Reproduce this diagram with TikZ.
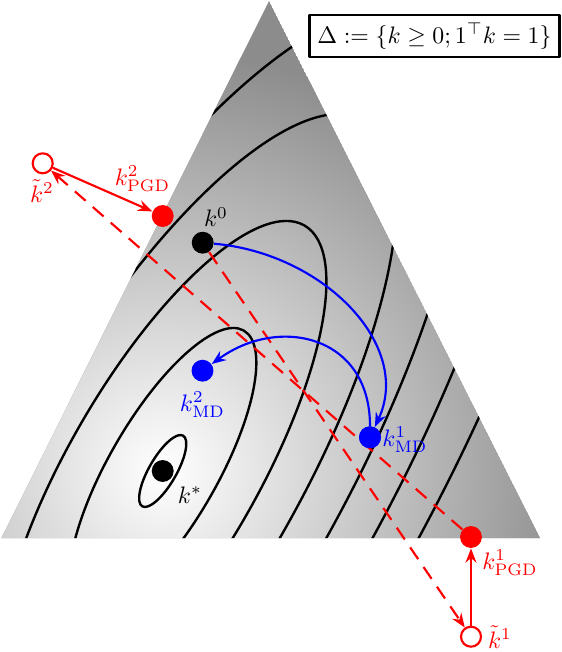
\documentclass[tikz,border=0pt]{standalone}
\usetikzlibrary{arrows.meta}
\newcommand{\Px}{0.42pt}
\newcommand{\Tilt}{60}
\newcommand{\Levels}{6}
\definecolor{pgd}{HTML}{FF0000}
\definecolor{md}{HTML}{0000FF}
\definecolor{rim}{gray}{0.55}
\tikzset{
  dot/.style={circle, fill, inner sep=0pt, minimum size=9.2pt},
  hollow/.style={circle, draw=pgd, fill=white, line width=0.9pt, inner sep=0pt, minimum size=8.4pt},
  level/.style={black, line width=1pt},
  tag/.style={inner sep=1pt},
  tip/.style={-{Stealth[length=6pt,width=4.6pt,inset=2pt]}},
  pgdline/.style={pgd, line width=0.9pt, tip},
  jump/.style={pgdline, dash pattern=on 6pt off 4pt},
  mdline/.style={md, line width=0.9pt, tip},
}
\begin{document}
\begin{tikzpicture}[x=\Px, y=\Px, line join=round]
  \useasboundingbox (0,0) rectangle (562,652);

  % ---- the simplex, shaded, with level sets --------------------------------
  \coordinate (apex) at (269,651);
  \coordinate (left) at (1.5,114);
  \coordinate (right) at (540,114);
  \coordinate (opt) at (162.7,181);
  \begin{scope}
    \clip (apex) -- (left) -- (right) -- cycle;
    \fill[rim] (apex) -- (left) -- (right) -- cycle;
    \shade[inner color=white, outer color=rim] (opt) circle (420);
    \foreach \i in {0,...,\Levels} {
      \pgfmathsetmacro\s{36+107*\i}
      \draw[level, shift={(opt)}, rotate=\Tilt] (0,0) ellipse ({1.134*\s} and {0.378*\s});
    }
  \end{scope}

  % ---- iterates -------------------------------------------------------------
  \node[dot] (k0) at (202.7,409.3) {};
  \node[dot] (kstar) at (opt) {};
  \node[dot, md] (k1MD) at (370,214.7) {};
  \node[dot, md] (k2MD) at (202.5,281.3) {};
  \node[hollow] (kt1) at (471,15.3) {};
  \node[hollow] (kt2) at (42.7,488.7) {};

  % ---- projected gradient: step out, then project back ----------------------
  \draw[jump] (k0) -- (kt1);
  \node[dot, pgd] (k1PGD) at (471,115) {};
  \draw[jump] (k1PGD) -- (kt2);
  \node[dot, pgd] (k2PGD) at (162.7,436) {};
  \draw[pgdline] (kt1) -- (k1PGD);
  \draw[pgdline] (kt2) -- (k2PGD);
  \node[dot, md] at (k1MD) {};

  % ---- mirror descent stays inside ------------------------------------------
  \draw[mdline] (k0) to[out=-5, in=65, out distance=46pt, in distance=38pt] (k1MD);
  \draw[mdline] (k1MD) to[out=90, in=36, out distance=38pt, in distance=35pt] (k2MD);

  % ---- labels ---------------------------------------------------------------
  \node[tag] (lk0) at (216,435) {$k^0$};
  \node[tag] (lkstar) at (190,157) {$k^*$};
  \node[tag, md] (lk1MD) at (405,212) {$k^1_{\mathrm{MD}}$};
  \node[tag, md] (lk2MD) at (202.5,247) {$k^2_{\mathrm{MD}}$};
  \node[tag, pgd] (lk1PGD) at (510,89) {$k^1_{\mathrm{PGD}}$};
  \node[tag, pgd] (lk2PGD) at (142.5,473) {$k^2_{\mathrm{PGD}}$};
  \node[tag, pgd] (lkt1) at (500,15) {$\tilde{k}^1$};
  \node[tag, pgd] (lkt2) at (42,461) {$\tilde{k}^2$};
  \node[draw, line width=1.1pt, fill=white] (simplex) at (434.5,616) {$\Delta := \{k \geq 0; 1^\top k = 1\}$};

\end{tikzpicture}
\end{document}
